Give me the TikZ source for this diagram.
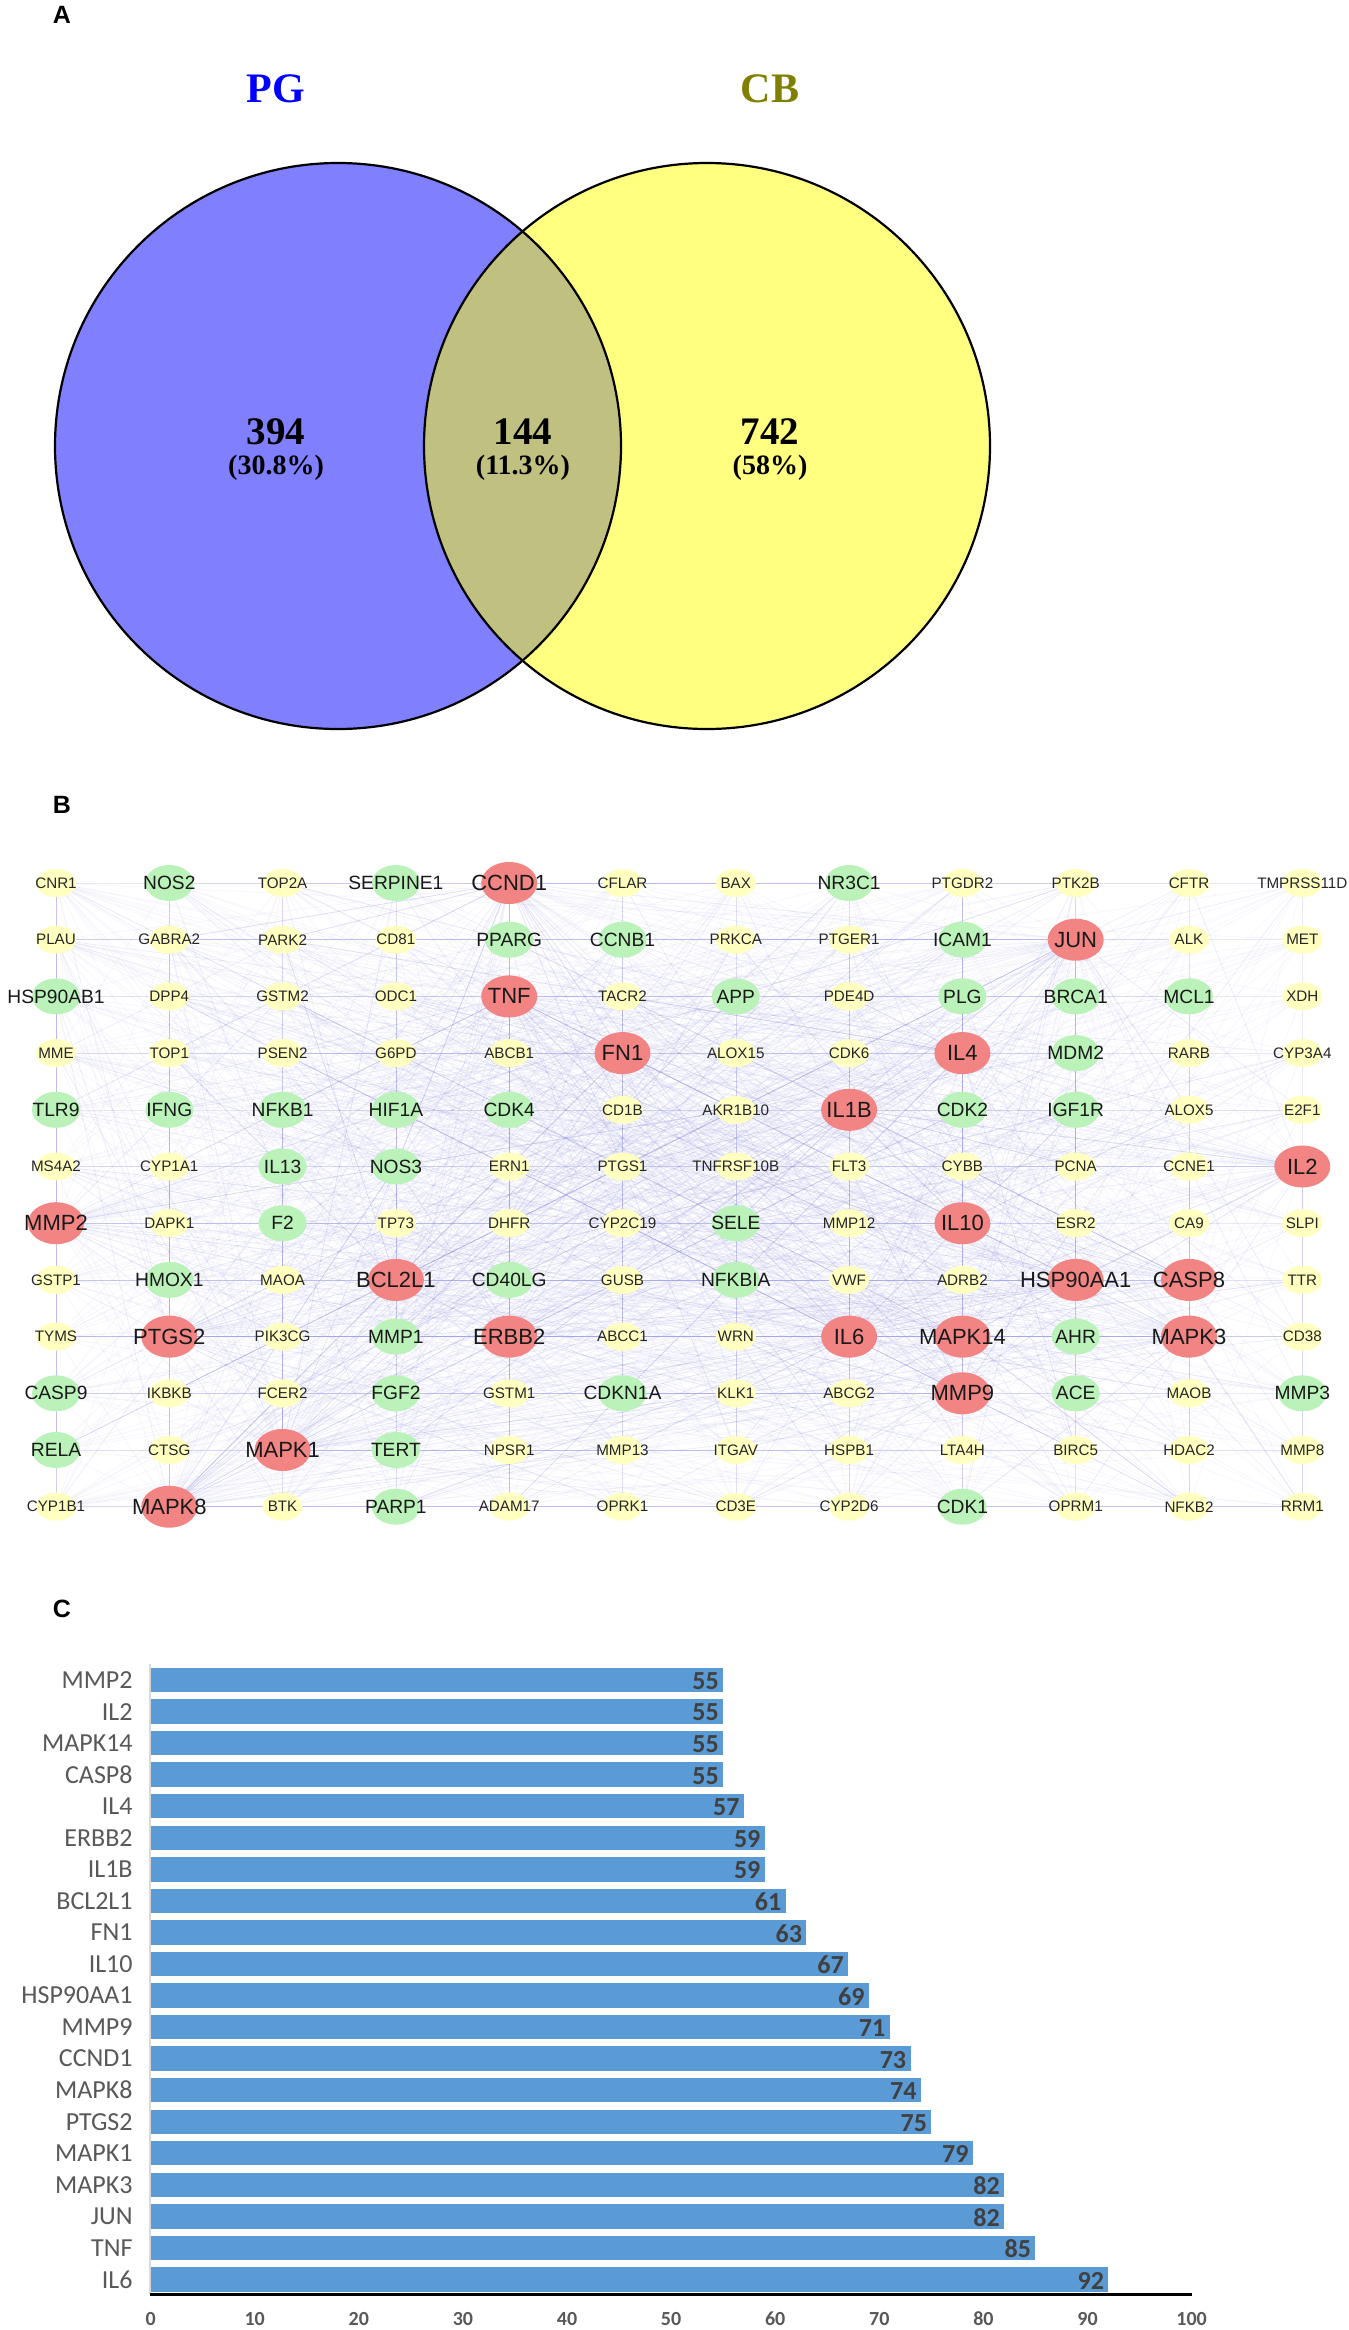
\documentclass[tikz,border=0pt]{standalone}
\usepackage{fontspec}
\setmainfont{Liberation Serif}
\newfontfamily\arialf{Liberation Sans}
\newfontfamily\calf{Carlito}
\usetikzlibrary{shapes.geometric}
\pgfdeclarelayer{edgelayer}
\pgfdeclarelayer{bglayer}
\pgfsetlayers{bglayer,edgelayer,main}
\definecolor{vblue}{RGB}{128,128,255}
\definecolor{vyel}{RGB}{255,255,128}
\definecolor{vmid}{RGB}{192,192,128}
\definecolor{pgblue}{RGB}{0,0,255}
\definecolor{cbolive}{RGB}{128,128,0}
\definecolor{ny}{RGB}{255,255,192}
\definecolor{ng}{RGB}{186,242,186}
\definecolor{nr}{RGB}{242,132,132}
\definecolor{edgec}{RGB}{165,165,235}
\definecolor{barc}{RGB}{91,155,213}
\definecolor{axgray}{RGB}{89,89,89}
\definecolor{valgray}{RGB}{64,64,64}
\definecolor{lightax}{RGB}{217,217,217}
\begin{document}
\begin{tikzpicture}[x=0.5pt,y=-0.5pt,
  panel/.style={font=\arialf\bfseries\fontsize{12.5}{15}\selectfont, inner sep=0},
  vennset/.style={font=\bfseries\fontsize{21}{24}\selectfont, inner sep=0},
  vnum/.style={font=\bfseries\fontsize{19.5}{22}\selectfont, inner sep=0},
  vpct/.style={font=\bfseries\fontsize{14}{16}\selectfont, inner sep=0},
  t-y/.style={ellipse, fill=ny, minimum width=20pt, minimum height=14pt, inner sep=0},
  t-g/.style={ellipse, fill=ng, minimum width=24pt, minimum height=18pt, inner sep=0},
  t-r/.style={ellipse, fill=nr, minimum width=28pt, minimum height=21pt, inner sep=0},
  l-y/.style={font=\arialf\fontsize{7.6}{9}\selectfont, text=black!85, inner sep=0},
  l-g/.style={font=\arialf\fontsize{9.6}{11}\selectfont, text=black!90, inner sep=0},
  l-r/.style={font=\arialf\fontsize{11}{13}\selectfont, text=black!90, inner sep=0},
  edge/.style={draw=edgec, line width=0.25pt, draw opacity=0.13},
  gridedge/.style={draw=edgec, line width=0.3pt, draw opacity=0.25},
  genelab/.style={font=\calf\fontsize{13}{15}\selectfont, text=axgray, inner sep=0},
  vallab/.style={font=\calf\bfseries\fontsize{13}{15}\selectfont, text=valgray, inner sep=0},
  ticklab/.style={font=\calf\bfseries\fontsize{10}{12}\selectfont, text=axgray, inner sep=0}
]
\useasboundingbox (0,0) rectangle (1349,2330);
\begin{pgfonlayer}{bglayer}
\fill[white] (0,0) rectangle (1349,2330);
\end{pgfonlayer}

% ---------------- Panel A : Venn ----------------
\node[panel] (labA) at (62,15) {A};
\fill[vblue] (338,446) circle[radius=141.5pt];
\fill[vyel] (707,446) circle[radius=141.5pt];
\begin{scope}
  \clip (338,446) circle[radius=141.5pt];
  \fill[vmid] (707,446) circle[radius=141.5pt];
\end{scope}
\draw[line width=1.1pt] (338,446) circle[radius=141.5pt];
\draw[line width=1.1pt] (707,446) circle[radius=141.5pt];
\node[vennset, text=pgblue] (pg) at (276,89) {PG};
\node[vennset, text=cbolive] (cb) at (770,89) {CB};
\node[vnum] (n394) at (276,432) {394};
\node[vpct] (p394) at (276,468) {(30.8\%)};
\node[vnum] (n144) at (523,432) {144};
\node[vpct] (p144) at (523,468) {(11.3\%)};
\node[vnum] (n742) at (770,432) {742};
\node[vpct] (p742) at (770,468) {(58\%)};

% ---------------- Panel B : network ----------------
\node[panel] (labB) at (62,805) {B};
\foreach \row [count=\j] in {
 {CNR1/y,NOS2/g,TOP2A/y,SERPINE1/g,CCND1/r,CFLAR/y,BAX/y,NR3C1/g,PTGDR2/y,PTK2B/y,CFTR/y,TMPRSS11D/y},
 {PLAU/y,GABRA2/y,PARK2/y,CD81/y,PPARG/g,CCNB1/g,PRKCA/y,PTGER1/y,ICAM1/g,JUN/r,ALK/y,MET/y},
 {HSP90AB1/g,DPP4/y,GSTM2/y,ODC1/y,TNF/r,TACR2/y,APP/g,PDE4D/y,PLG/g,BRCA1/g,MCL1/g,XDH/y},
 {MME/y,TOP1/y,PSEN2/y,G6PD/y,ABCB1/y,FN1/r,ALOX15/y,CDK6/y,IL4/r,MDM2/g,RARB/y,CYP3A4/y},
 {TLR9/g,IFNG/g,NFKB1/g,HIF1A/g,CDK4/g,CD1B/y,AKR1B10/y,IL1B/r,CDK2/g,IGF1R/g,ALOX5/y,E2F1/y},
 {MS4A2/y,CYP1A1/y,IL13/g,NOS3/g,ERN1/y,PTGS1/y,TNFRSF10B/y,FLT3/y,CYBB/y,PCNA/y,CCNE1/y,IL2/r},
 {MMP2/r,DAPK1/y,F2/g,TP73/y,DHFR/y,CYP2C19/y,SELE/g,MMP12/y,IL10/r,ESR2/y,CA9/y,SLPI/y},
 {GSTP1/y,HMOX1/g,MAOA/y,BCL2L1/r,CD40LG/g,GUSB/y,NFKBIA/g,VWF/y,ADRB2/y,HSP90AA1/r,CASP8/r,TTR/y},
 {TYMS/y,PTGS2/r,PIK3CG/y,MMP1/g,ERBB2/r,ABCC1/y,WRN/y,IL6/r,MAPK14/r,AHR/g,MAPK3/r,CD38/y},
 {CASP9/g,IKBKB/y,FCER2/y,FGF2/g,GSTM1/y,CDKN1A/g,KLK1/y,ABCG2/y,MMP9/r,ACE/g,MAOB/y,MMP3/g},
 {RELA/g,CTSG/y,MAPK1/r,TERT/g,NPSR1/y,MMP13/y,ITGAV/y,HSPB1/y,LTA4H/y,BIRC5/y,HDAC2/y,MMP8/y},
 {CYP1B1/y,MAPK8/r,BTK/y,PARP1/g,ADAM17/y,OPRK1/y,CD3E/y,CYP2D6/y,CDK1/g,OPRM1/y,NFKB2/y,RRM1/y}} {
  \foreach \nm/\ty [count=\i] in \row {
    \node[t-\ty, label={[l-\ty]center:\nm}] (n-\j-\i) at ({56+113.3*(\i-1)},{883+56.7*(\j-1)}) {};
  }
}
\begin{pgfonlayer}{edgelayer}
  \pgfmathsetseed{4242}
  \foreach \r/\c/\d in {7/1/55,6/12/55,9/9/55,8/11/55,4/9/57,9/5/59,5/8/59,8/4/61,4/6/63,7/9/67,
      8/10/69,10/9/71,1/5/73,12/2/74,9/2/75,11/3/79,9/11/82,2/10/82,3/5/85,9/8/92} {
    \foreach \k in {1,...,\d} {
      \pgfmathrandominteger{\rr}{1}{12}
      \pgfmathrandominteger{\cc}{1}{12}
      \draw[edge] (n-\r-\c.center) -- (n-\rr-\cc.center);
    }
  }
  \foreach \k in {1,...,900} {
    \pgfmathrandominteger{\ra}{1}{12}
    \pgfmathrandominteger{\ca}{1}{10}
    \pgfmathrandominteger{\rb}{1}{12}
    \pgfmathrandominteger{\cb}{1}{12}
    \draw[edge] (n-\ra-\ca.center) -- (n-\rb-\cb.center);
  }
  \foreach \c in {1,...,12} { \draw[gridedge] (n-1-\c.center) -- (n-12-\c.center); }
  \foreach \r in {1,...,12} { \draw[gridedge] (n-\r-1.center) -- (n-\r-12.center); }
\end{pgfonlayer}

% ---------------- Panel C : bar chart ----------------
\node[panel] (labC) at (62,1609) {C};
\draw[lightax, line width=0.75pt] (150,1664) -- (150,2294);
\foreach \nm/\v [count=\i from 0] in {MMP2/55,IL2/55,MAPK14/55,CASP8/55,IL4/57,ERBB2/59,IL1B/59,
    BCL2L1/61,FN1/63,IL10/67,HSP90AA1/69,MMP9/71,CCND1/73,MAPK8/74,PTGS2/75,MAPK1/79,MAPK3/82,
    JUN/82,TNF/85,IL6/92} {
  \pgfmathsetmacro\yc{1680+31.55*\i}
  \pgfmathsetmacro\xe{150.6+10.41*\v}
  \fill[barc] (151,\yc-12.2) rectangle (\xe,\yc+12.2);
  \node[genelab, anchor=east] (bl-\i) at (133,\yc) {\nm};
  \node[vallab, anchor=east] (bv-\i) at (\xe-4,\yc+1) {\v};
}
\draw[line width=1.5pt] (150,2294) -- (1192,2294);
\foreach \t in {0,10,...,100} {
  \node[ticklab] (tk-\t) at ({150.6+10.41*\t},2319) {\t};
}
\end{tikzpicture}
\end{document}
